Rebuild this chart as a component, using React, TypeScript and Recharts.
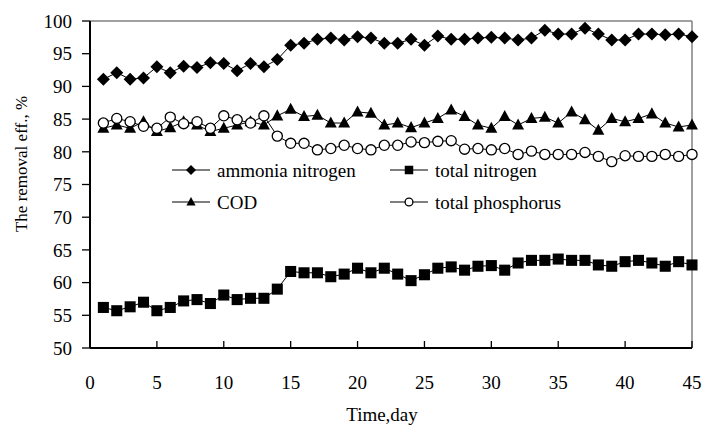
import React from "react";
import {
  LineChart,
  Line,
  XAxis,
  YAxis,
  Legend,
  ReferenceLine,
} from "recharts";

const days = Array.from({ length: 45 }, (_, i) => i + 1);

const ammoniaNitrogen = [
  91.1, 92.1, 91.1, 91.3, 93.0, 92.1, 93.1, 92.9, 93.6, 93.5, 92.4, 93.5, 93.0,
  94.1, 96.3, 96.6, 97.2, 97.4, 97.1, 97.6, 97.4, 96.6, 96.6, 97.2, 96.3, 97.7,
  97.2, 97.2, 97.4, 97.5, 97.4, 97.1, 97.4, 98.6, 98.0, 98.0, 98.9, 98.0, 97.1,
  97.1, 98.0, 98.0, 97.9, 98.0, 97.6,
];

const totalNitrogen = [
  56.2, 55.7, 56.3, 57.0, 55.7, 56.2, 57.2, 57.4, 56.8, 58.1, 57.4, 57.6, 57.6,
  59.0, 61.7, 61.5, 61.5, 60.9, 61.3, 62.2, 61.5, 62.2, 61.3, 60.3, 61.2, 62.2,
  62.4, 61.9, 62.5, 62.6, 61.9, 63.0, 63.4, 63.4, 63.6, 63.4, 63.4, 62.7, 62.5,
  63.2, 63.4, 63.0, 62.5, 63.2, 62.7,
];

const cod = [
  83.6, 84.1, 83.6, 84.6, 83.1, 83.7, 84.6, 84.1, 83.1, 83.6, 84.1, 84.6, 84.1,
  85.5, 86.5, 85.4, 85.6, 84.4, 84.4, 86.1, 85.9, 84.1, 84.4, 83.7, 84.4, 85.1,
  86.4, 85.4, 84.1, 83.6, 85.4, 84.1, 85.1, 85.3, 84.4, 86.1, 84.9, 83.3, 85.1,
  84.6, 85.1, 85.8, 84.4, 83.8, 84.1,
];

const totalPhosphorus = [
  84.4, 85.1, 84.6, 83.9, 83.6, 85.3, 84.3, 84.6, 83.6, 85.5, 84.9, 84.4, 85.5,
  82.4, 81.3, 81.3, 80.3, 80.5, 81.0, 80.5, 80.3, 81.0, 81.0, 81.5, 81.4, 81.6,
  81.7, 80.4, 80.5, 80.3, 80.5, 79.6, 80.1, 79.6, 79.6, 79.6, 79.9, 79.3, 78.5,
  79.4, 79.3, 79.3, 79.6, 79.3, 79.6,
];

const xTicks = [0, 5, 10, 15, 20, 25, 30, 35, 40, 45];
const yTicks = [50, 55, 60, 65, 70, 75, 80, 85, 90, 95, 100];

const data = days.map((d, i) => ({
  day: d,
  ammonia: ammoniaNitrogen[i],
  tn: totalNitrogen[i],
  cod: cod[i],
  tp: totalPhosphorus[i],
}));

const FONT = "Liberation Serif";

type Shape = "diamond" | "square" | "triangle" | "circle";

function marker(shape: Shape, cx: number, cy: number, s: number, key?: any) {
  switch (shape) {
    case "diamond":
      return (
        <path
          key={key}
          d={`M${cx},${cy - s}L${cx + s},${cy}L${cx},${cy + s}L${cx - s},${cy}Z`}
          fill="#000"
        />
      );
    case "square":
      return (
        <rect
          key={key}
          x={cx - s * 0.85}
          y={cy - s * 0.85}
          width={s * 1.7}
          height={s * 1.7}
          fill="#000"
        />
      );
    case "triangle":
      return (
        <path
          key={key}
          d={`M${cx},${cy - s}L${cx + s * 0.92},${cy + s * 0.7}L${cx - s * 0.92},${cy + s * 0.7}Z`}
          fill="#000"
        />
      );
    default:
      return (
        <circle
          key={key}
          cx={cx}
          cy={cy}
          r={s * 0.78}
          fill="#fff"
          stroke="#000"
          strokeWidth={1.3}
        />
      );
  }
}

const series: { key: string; name: string; shape: Shape }[] = [
  { key: "ammonia", name: "ammonia nitrogen", shape: "diamond" },
  { key: "tn", name: "total nitrogen", shape: "square" },
  { key: "cod", name: "COD", shape: "triangle" },
  { key: "tp", name: "total phosphorus", shape: "circle" },
];

function LegendBox() {
  const item = (s: (typeof series)[0]) => (
    <div
      key={s.key}
      style={{ display: "flex", alignItems: "center", height: 32 }}
    >
      <svg width={40} height={16} style={{ marginRight: 6 }}>
        <line x1={1} y1={8} x2={39} y2={8} stroke="#000" strokeWidth={1} />
        {marker(s.shape, 20, 8, 5)}
      </svg>
      <span>{s.name}</span>
    </div>
  );
  return (
    <div
      style={{
        display: "grid",
        gridTemplateColumns: "218px 220px",
        fontFamily: FONT,
        fontSize: 19,
        color: "#000",
        lineHeight: "19px",
      }}
    >
      {item(series[0])}
      {item(series[1])}
      {item(series[2])}
      {item(series[3])}
    </div>
  );
}

export default function App() {
  return (
    <div style={{ position: "absolute", left: 0, top: 0, background: "#fff" }}>
      <LineChart
        width={706}
        height={426}
        data={data}
        margin={{ top: 21, right: 14, bottom: 0, left: 0 }}
        style={{ fontFamily: FONT }}
      >
        <XAxis
          dataKey="day"
          type="number"
          domain={[0, 45]}
          ticks={xTicks}
          interval={0}
          height={78}
          axisLine={{ stroke: "#000", strokeWidth: 2 }}
          tickLine={{ stroke: "#000", strokeWidth: 1.3 }}
          tickSize={-7}
          tickMargin={35}
          tick={{ fill: "#000", fontSize: 19, fontFamily: FONT }}
          label={{
            content: () => (
              <text
                x={382}
                y={414}
                textAnchor="middle"
                dominantBaseline="central"
                fontSize={19}
                fontFamily={FONT}
                fill="#000"
              >
                Time,day
              </text>
            ),
          }}
        />
        <YAxis
          type="number"
          domain={[50, 100]}
          ticks={yTicks}
          interval={0}
          width={90}
          axisLine={{ stroke: "#000", strokeWidth: 2 }}
          tickLine={{ stroke: "#000", strokeWidth: 1.3 }}
          tickSize={8}
          tickMargin={10}
          tick={{ fill: "#000", fontSize: 19, fontFamily: FONT }}
          label={{
            content: () => (
              <text
                x={21}
                y={164}
                transform="rotate(-90 21 164)"
                textAnchor="middle"
                dominantBaseline="central"
                fontSize={17}
                fontFamily={FONT}
                fill="#000"
              >
                The removal eff., %
              </text>
            ),
          }}
        />
        <ReferenceLine y={100} stroke="#808080" strokeWidth={1.5} />
        <ReferenceLine x={45} stroke="#808080" strokeWidth={1.5} />
        <Legend
          layout="vertical"
          align="center"
          verticalAlign="middle"
          content={() => <LegendBox />}
          wrapperStyle={{ left: 171, top: 154, width: 450 }}
        />
        {series.map((s) => (
          <Line
            key={s.key}
            dataKey={s.key}
            name={s.name}
            type="linear"
            stroke="#000"
            strokeWidth={1}
            isAnimationActive={false}
            activeDot={false}
            dot={(p: any) => marker(s.shape, p.cx, p.cy, 6.5, p.key ?? p.index)}
          />
        ))}
      </LineChart>
    </div>
  );
}
